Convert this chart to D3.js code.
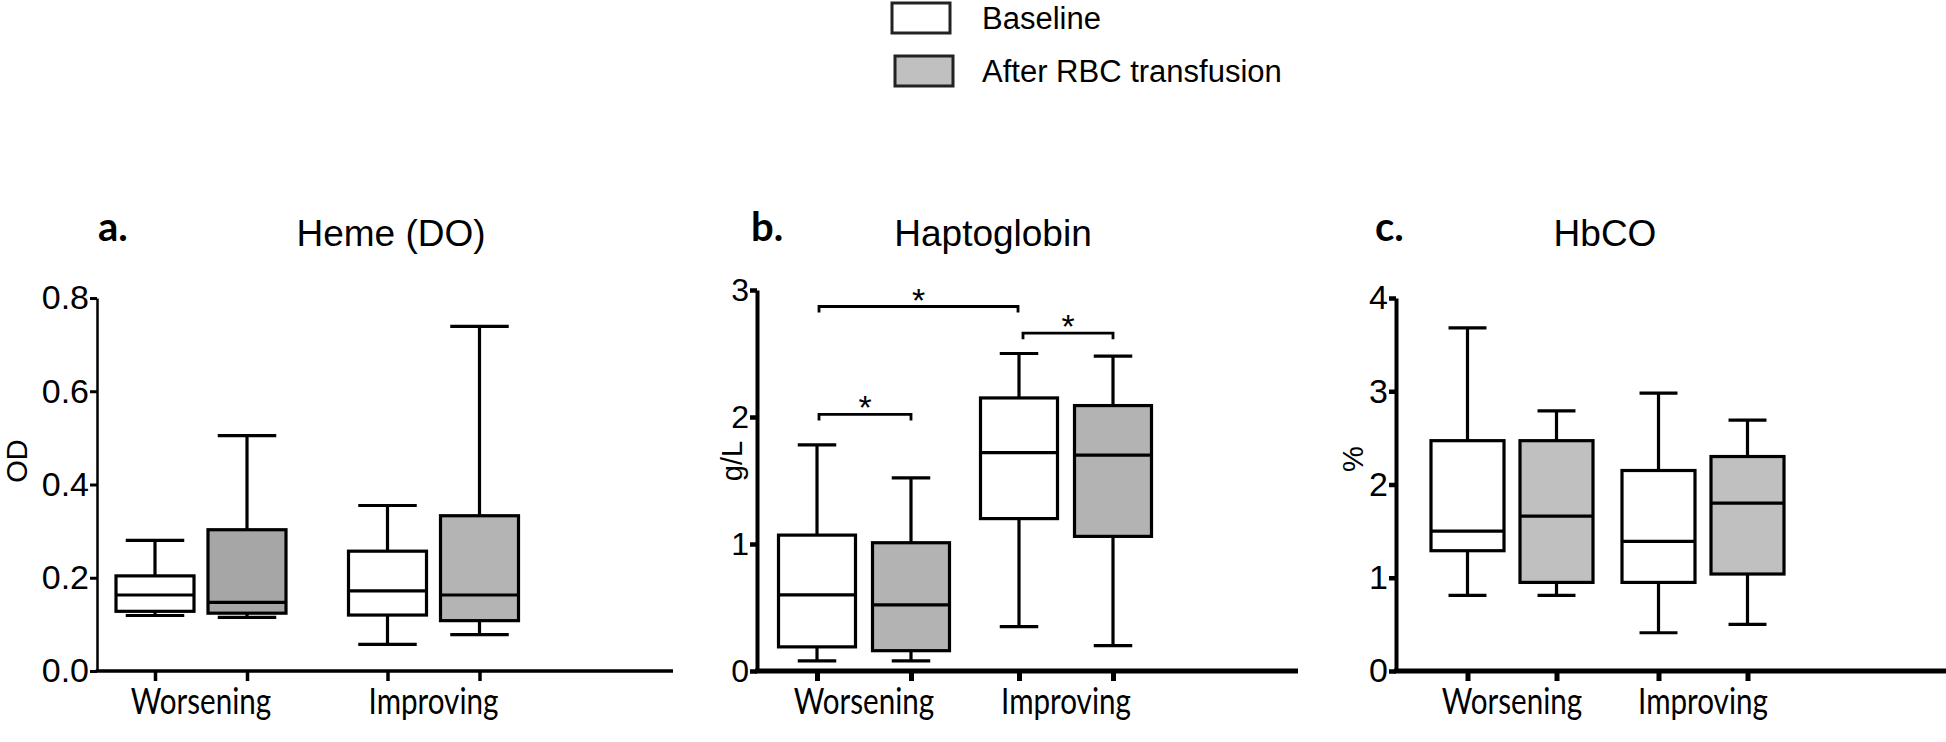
<!DOCTYPE html>
<html>
<head>
<meta charset="utf-8">
<script src="https://cdn.jsdelivr.net/npm/d3@7"></script>
<style>
  body { margin: 0; background: #fff; }
  svg { display: block; }
</style>
</head>
<body>
<svg id="chart"></svg>
<script>
// groups on the x axis and the two series (legend)
const groups = ["Worsening", "Improving"];
const series = ["Baseline", "After RBC transfusion"];

// box stats: [min, q1, median, q3, max], order W-base, W-after, I-base, I-after
const hemeStats = [
  [0.119, 0.128, 0.163, 0.204, 0.280],
  [0.115, 0.124, 0.147, 0.303, 0.505],
  [0.057, 0.120, 0.172, 0.257, 0.355],
  [0.078, 0.108, 0.163, 0.333, 0.739]
];
const haptoStats = [
  [0.08, 0.19, 0.60, 1.07, 1.78],
  [0.08, 0.16, 0.52, 1.01, 1.52],
  [0.35, 1.20, 1.72, 2.15, 2.50],
  [0.20, 1.06, 1.70, 2.09, 2.48]
];
const hbcoStats = [
  [0.81, 1.29, 1.50, 2.47, 3.68],
  [0.81, 0.95, 1.66, 2.47, 2.79],
  [0.41, 0.95, 1.39, 2.15, 2.98],
  [0.50, 1.04, 1.80, 2.30, 2.69]
];

// y tick labels
const hemeTicks = [0, 0.2, 0.4, 0.6, 0.8];
const haptoTicks = [0, 1, 2, 3];
const hbcoTicks = [0, 1, 2, 3, 4];

// significance brackets on haptoglobin: [from, to, level]
const haptoSig = [
  [["Worsening", "Baseline"], ["Improving", "Baseline"], 2.87],
  [["Improving", "Baseline"], ["Improving", "After RBC transfusion"], 2.66],
  [["Worsening", "Baseline"], ["Worsening", "After RBC transfusion"], 2.02]
];

const W = 1946, H = 742;
const svg = d3.select("#chart").attr("width", W).attr("height", H);

const y0 = 671;
const panels = [
  { letter: "a.", title: "Heme (DO)", ylab: "OD", stats: hemeStats, ticks: hemeTicks, fmt: d3.format(".1f"),
    ax: 97, axEnd: 673, y1: 298, c: [201, 433.5], half: 46, boxW: 78, cap: 0.75,
    fills: ["#a6a6a6", "#b4b4b4"], yW: 2.5, xW: 3.5, fs: 34, titleX: 391, letterX: 98, ylabX: 27, ylabY: 461, sig: [] },
  { letter: "b.", title: "Haptoglobin", ylab: "g/L", stats: haptoStats, ticks: haptoTicks, fmt: d3.format("d"),
    ax: 757, axEnd: 1298, y1: 290, c: [864, 1066], half: 47, boxW: 77, cap: 0.5,
    fills: ["#b3b3b3", "#b3b3b3"], yW: 4, xW: 5, fs: 32, titleX: 993, letterX: 751, ylabX: 742, ylabY: 461, sig: haptoSig },
  { letter: "c.", title: "HbCO", ylab: "%", stats: hbcoStats, ticks: hbcoTicks, fmt: d3.format("d"),
    ax: 1396, axEnd: 1946, y1: 298, c: [1512, 1703], half: 44.5, boxW: 73, cap: 0.52,
    fills: ["#c0c0c0", "#c0c0c0"], yW: 4, xW: 5, fs: 34, titleX: 1605, letterX: 1375, ylabX: 1363, ylabY: 459, sig: [] }
];

panels.forEach(p => {
  const g = svg.append("g");

  const y = d3.scaleLinear()
    .domain([0, d3.max(p.ticks)])
    .range([y0, p.y1]);

  const xg = d3.scalePoint().domain(groups).range(p.c);
  const xs = d3.scalePoint().domain(series).range([-p.half, p.half]);
  const xpos = (grp, ser) => xg(grp) + xs(ser);

  // flat list of boxes
  const boxes = [];
  groups.forEach((grp, gi) => series.forEach((ser, si) => {
    const s = p.stats[gi * 2 + si];
    boxes.push({ grp, ser, si, min: s[0], q1: s[1], med: s[2], q3: s[3], max: s[4] });
  }));

  // x axis: ticks at each box, no labels
  const xkeys = boxes.map(b => b.grp + "|" + b.ser);
  const xo = d3.scaleOrdinal().domain(xkeys).range(boxes.map(b => xpos(b.grp, b.ser)));
  const xAxis = g.append("g")
    .attr("transform", `translate(0,${y0})`)
    .call(d3.axisBottom(xo).tickFormat("").tickSize(10).tickSizeOuter(0));
  xAxis.select(".domain").remove();
  xAxis.selectAll(".tick line").attr("stroke", "#000").attr("stroke-width", p.xW);
  g.append("line")
    .attr("x1", p.ax - p.yW / 2).attr("x2", p.axEnd)
    .attr("y1", y0).attr("y2", y0)
    .attr("stroke", "#000").attr("stroke-width", p.xW);

  // y axis
  const yAxis = g.append("g")
    .attr("transform", `translate(${p.ax},0)`)
    .call(d3.axisLeft(y).tickValues(p.ticks).tickFormat(p.fmt).tickSize(7).tickPadding(1).tickSizeOuter(0));
  yAxis.select(".domain").attr("stroke-width", p.yW);
  yAxis.selectAll(".tick line").attr("stroke-width", p.yW + 0.5);
  yAxis.selectAll(".tick text")
    .attr("font-family", "Liberation Sans, Arial, sans-serif")
    .attr("font-size", p.fs)
    .attr("fill", "#000");

  // group labels (condensed)
  g.selectAll(".glab").data(groups).enter().append("text")
    .attr("transform", d => `translate(${xg(d)},714) scale(0.8,1)`)
    .attr("text-anchor", "middle")
    .attr("font-family", "Lato, sans-serif")
    .attr("font-size", 37)
    .text(d => d);

  // whiskers
  const bg = g.selectAll(".box").data(boxes).enter().append("g");
  bg.append("line")
    .attr("x1", d => xpos(d.grp, d.ser)).attr("x2", d => xpos(d.grp, d.ser))
    .attr("y1", d => y(d.max)).attr("y2", d => y(d.min))
    .attr("stroke", "#000").attr("stroke-width", 3.2);
  ["min", "max"].forEach(k => {
    bg.append("line")
      .attr("x1", d => xpos(d.grp, d.ser) - p.boxW * p.cap / 2)
      .attr("x2", d => xpos(d.grp, d.ser) + p.boxW * p.cap / 2)
      .attr("y1", d => y(d[k])).attr("y2", d => y(d[k]))
      .attr("stroke", "#000").attr("stroke-width", 3.2);
  });
  bg.append("rect")
    .attr("x", d => xpos(d.grp, d.ser) - p.boxW / 2)
    .attr("width", p.boxW)
    .attr("y", d => y(d.q3))
    .attr("height", d => y(d.q1) - y(d.q3))
    .attr("fill", d => d.si === 0 ? "#fff" : p.fills[groups.indexOf(d.grp)])
    .attr("stroke", "#000").attr("stroke-width", 3.2);
  bg.append("line")
    .attr("x1", d => xpos(d.grp, d.ser) - p.boxW / 2)
    .attr("x2", d => xpos(d.grp, d.ser) + p.boxW / 2)
    .attr("y1", d => y(d.med)).attr("y2", d => y(d.med))
    .attr("stroke", "#000").attr("stroke-width", 3.2);

  // significance brackets
  p.sig.forEach(([a, b, lvl], i) => {
    const xa = xpos(a[0], a[1]) + (i === 1 ? 4 : 2);
    const xb = xpos(b[0], b[1]) - (i === 0 ? 1 : 0);
    const yl = y(lvl);
    g.append("path")
      .attr("d", `M${xa},${yl + 6}V${yl}H${xb}V${yl + 6}`)
      .attr("fill", "none").attr("stroke", "#000").attr("stroke-width", 2.8);
    g.append("text")
      .attr("x", (xa + xb) / 2).attr("y", yl + 5)
      .attr("text-anchor", "middle")
      .attr("font-family", "Liberation Sans, Arial, sans-serif")
      .attr("font-size", 34)
      .text("*");
  });

  // title, panel letter, y label
  g.append("text")
    .attr("x", p.titleX).attr("y", 246)
    .attr("text-anchor", "middle")
    .attr("font-family", "Liberation Sans, Arial, sans-serif")
    .attr("font-size", 37)
    .text(p.title);
  g.append("text")
    .attr("x", p.letterX).attr("y", 241)
    .attr("font-family", "Lato, sans-serif")
    .attr("font-weight", "bold")
    .attr("font-size", 40)
    .text(p.letter);
  g.append("text")
    .attr("transform", `translate(${p.ylabX},${p.ylabY}) rotate(-90)`)
    .attr("text-anchor", "middle")
    .attr("font-family", "Liberation Sans, Arial, sans-serif")
    .attr("font-size", 29)
    .text(p.ylab);
});

// legend
const legFill = ["#fff", "#c0c0c0"];
const leg = svg.append("g");
const legY = d3.scalePoint().domain(series).range([18, 71]);
leg.selectAll("rect").data(series).enter().append("rect")
  .attr("x", (d, i) => 892 + i * 3).attr("y", d => legY(d) - 15)
  .attr("width", 58).attr("height", 30)
  .attr("fill", (d, i) => legFill[i])
  .attr("stroke", "#222").attr("stroke-width", 3);
leg.selectAll("text").data(series).enter().append("text")
  .attr("x", 982).attr("y", d => legY(d) + 11)
  .attr("font-family", "Liberation Sans, Arial, sans-serif")
  .attr("font-size", 31)
  .text(d => d);
</script>
</body>
</html>
